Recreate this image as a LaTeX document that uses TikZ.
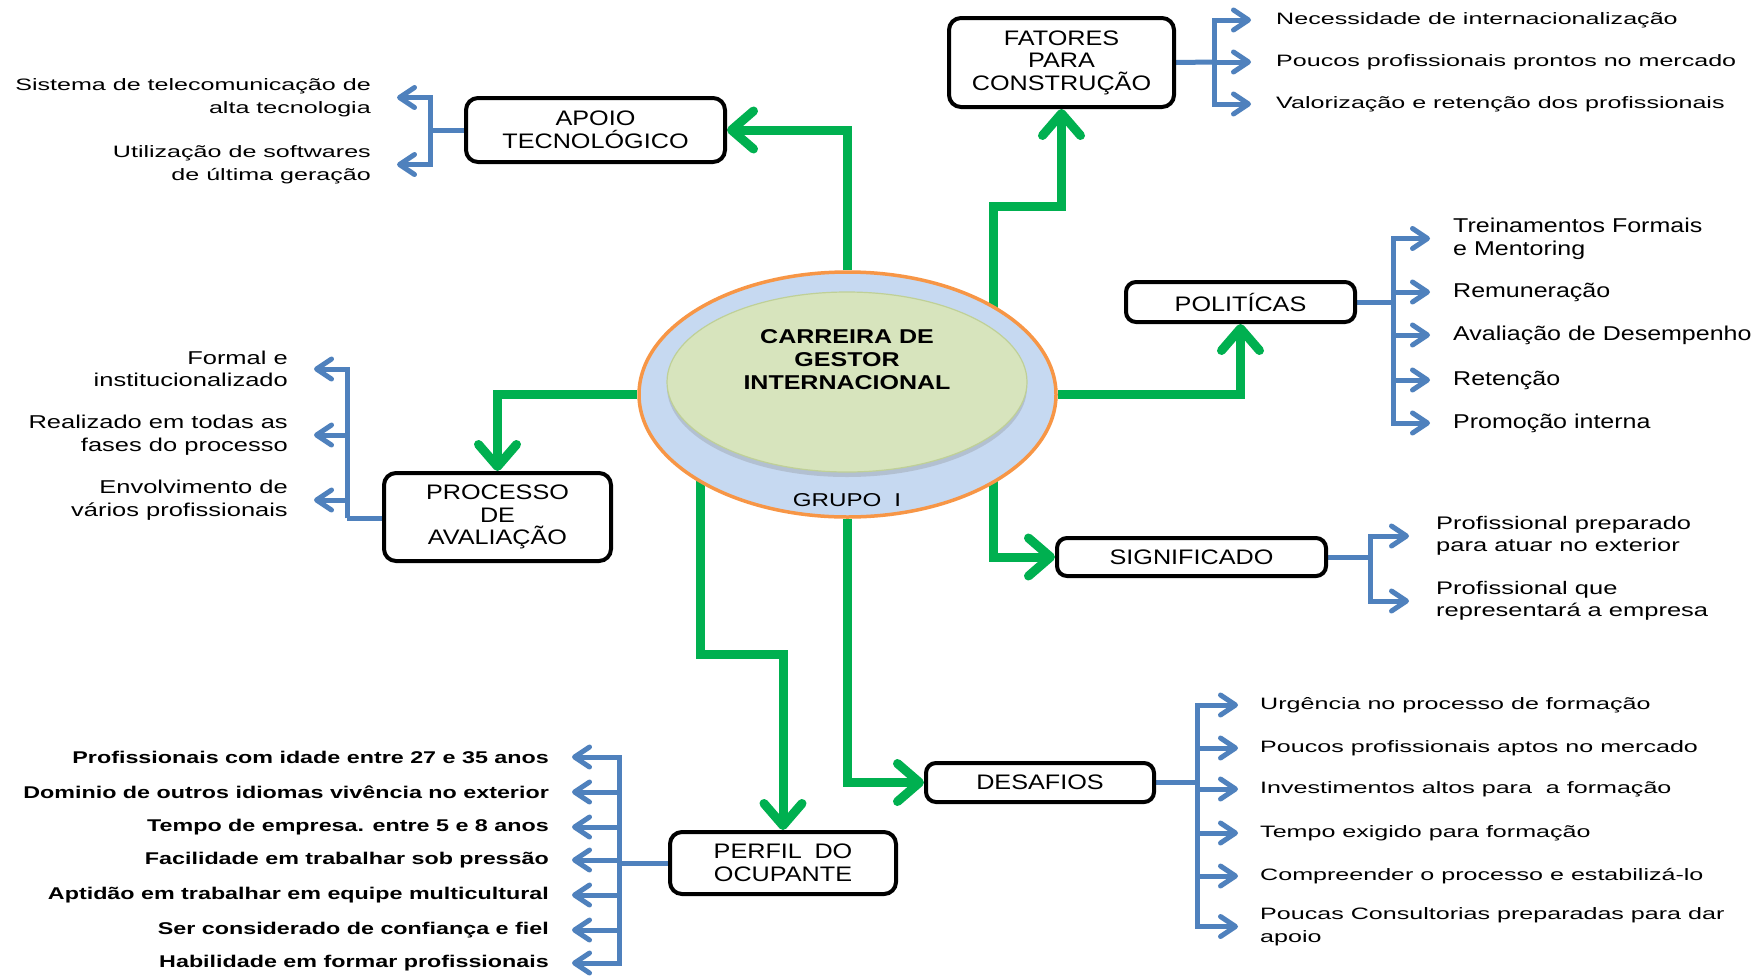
\documentclass[tikz,border=0pt]{standalone}
\usepackage{fontspec}
\setmainfont{Liberation Sans}
% widened sans faces for the different text groups
\newfontfamily\wideA{Liberation Sans}[FakeStretch=1.52]
\newfontfamily\wideP{Liberation Sans}[FakeStretch=1.25]
\newfontfamily\wideS{Liberation Sans}[FakeStretch=1.4]
\newfontfamily\wideR{Liberation Sans}[FakeStretch=1.37]
\newfontfamily\wideB{Liberation Sans}[FakeStretch=1.37]
\newfontfamily\wideBox{Liberation Sans}[FakeStretch=1.2]
\newfontfamily\wideHub{Liberation Sans}[FakeStretch=1.25]
\newfontfamily\wideG{Liberation Sans}[FakeStretch=1.3]
\usetikzlibrary{arrows.meta,shapes.geometric,shadows}
\definecolor{cGreen}{HTML}{00B050}
\definecolor{cBlue}{HTML}{4F81BD}
\definecolor{cHubBlue}{HTML}{C6D9F1}
\definecolor{cHubRim}{HTML}{F79646}
\definecolor{cCore}{HTML}{D7E4BD}
\definecolor{cCoreRim}{HTML}{BFD097}
\pgfdeclarelayer{back}
\pgfsetlayers{back,main}
\begin{document}
\begin{tikzpicture}[x=1pt,y=-1pt,
  box/.style={draw=black, line width=4pt, rounded corners=12pt, fill=white,
    inner sep=0pt, align=center, font=\wideBox\fontsize{21pt}{22.5pt}\selectfont},
  greenarrow/.style={draw=cGreen, line width=9pt,
    -{Straight Barb[length=22pt,width=38pt,round]}},
  blueline/.style={draw=cBlue, line width=5pt},
  bluearrow/.style={draw=cBlue, line width=5pt,
    -{Straight Barb[length=15pt,width=20pt,round]}},
  lblA/.style={inner sep=0pt, font=\wideA\fontsize{16.5pt}{23pt}\selectfont},
  lblP/.style={inner sep=0pt, align=left, anchor=west, font=\wideP\fontsize{20pt}{23pt}\selectfont},
  lblS/.style={inner sep=0pt, align=left, anchor=west, font=\wideS\fontsize{18.2pt}{22pt}\selectfont},
  lblR/.style={inner sep=0pt, align=right, anchor=east, font=\wideR\fontsize{18.6pt}{22.5pt}\selectfont},
  lblB/.style={inner sep=0pt, anchor=east, font=\wideB\bfseries\fontsize{17pt}{22pt}\selectfont},
]
\useasboundingbox (0,0) rectangle (1763,975);

% central ellipse
\node[ellipse, draw=cHubRim, line width=3.5pt, fill=cHubBlue,
  minimum width=417pt, minimum height=245pt, inner sep=0pt] (hub) at (847.5,394.5) {};
\node[ellipse, fill=cCore, draw=cCoreRim, line width=1.2pt,
  drop shadow={opacity=0.28, shadow xshift=0pt, shadow yshift=-5pt},
  minimum width=360pt, minimum height=180pt, inner sep=0pt] (core) at (847,382) {};
\node[inner sep=0pt, align=center, font=\wideHub\bfseries\fontsize{20pt}{23pt}\selectfont]
  (title) at (847,360) {CARREIRA DE\\GESTOR\\INTERNACIONAL};
\node[inner sep=0pt, font=\wideG\fontsize{18.6pt}{20pt}\selectfont]
  (grupo) at (847,500) {GRUPO\hspace{0.7em}I};

% topic boxes
\node[box, minimum width=259pt, minimum height=64pt] (apoio) at (595.5,130) {APOIO\\TECNOLÓGICO};
\node[box, minimum width=225pt, minimum height=89pt] (fatores) at (1061.5,62.5) {FATORES\\PARA\\CONSTRUÇÃO};
\node[box, rounded corners=10pt, minimum width=229pt, minimum height=40pt] (politicas) at (1240.5,302) {POLITÍCAS};
\node[box, rounded corners=10pt, minimum width=269pt, minimum height=38pt] (significado) at (1191.5,557) {SIGNIFICADO};
\node[box, minimum width=227pt, minimum height=88pt] (processo) at (497.5,517) {PROCESSO\\DE\\AVALIAÇÃO};
\node[box, minimum width=226pt, minimum height=62pt] (perfil) at (783,863) {PERFIL\hspace{0.6em}DO\\OCUPANTE};
\node[box, rounded corners=10pt, minimum width=228pt, minimum height=39pt] (desafios) at (1040,782.5) {DESAFIOS};

% item labels
\node[lblA, align=right, anchor=east] (a1) at (371,97.5) {Sistema de telecomunicação de\\alta tecnologia};
\node[lblA, align=right, anchor=east] (a2) at (371,164.5) {Utilização de softwares\\de última geração};

\node[lblA, anchor=west] (f1) at (1276,20) {Necessidade de internacionalização};
\node[lblA, anchor=west] (f2) at (1276,62) {Poucos profissionais prontos no mercado};
\node[lblA, anchor=west] (f3) at (1276,104) {Valorização e retenção dos profissionais};

\node[lblP] (p1) at (1453,238.5) {Treinamentos Formais\\e Mentoring};
\node[lblP] (p2) at (1453,292) {Remuneração};
\node[lblP] (p3) at (1453,335) {Avaliação de Desempenho};
\node[lblP] (p4) at (1453,380) {Retenção};
\node[lblP] (p5) at (1453,423) {Promoção interna};

\node[lblS] (s1) at (1436,536) {Profissional preparado\\para atuar no exterior};
\node[lblS] (s2) at (1436,601) {Profissional que\\representará a empresa};

\node[lblR] (r1) at (288,369) {Formal e\\institucionalizado};
\node[lblR] (r2) at (288,435) {Realizado em todas as\\fases do processo};
\node[lblR] (r3) at (288,500) {Envolvimento de\\vários profissionais};

\node[lblB] (o1) at (549,757) {Profissionais com idade entre 27 e 35 anos};
\node[lblB] (o2) at (549,792) {Dominio de outros idiomas vivência no exterior};
\node[lblB] (o3) at (549,827) {Tempo de empresa. entre 5 e 8 anos};
\node[lblB] (o4) at (549,860) {Facilidade em trabalhar sob pressão};
\node[lblB] (o5) at (549,895) {Aptidão em trabalhar em equipe multicultural};
\node[lblB] (o6) at (549,930) {Ser considerado de confiança e fiel};
\node[lblB] (o7) at (549,963) {Habilidade em formar profissionais};

\node[lblA, anchor=west] (d1) at (1260,705) {Urgência no processo de formação};
\node[lblA, anchor=west] (d2) at (1260,748) {Poucos profissionais aptos no mercado};
\node[lblA, anchor=west] (d3) at (1260,789) {Investimentos altos para\ \ a formação};
\node[lblA, anchor=west] (d4) at (1260,833) {Tempo exigido para formação};
\node[lblA, anchor=west] (d5) at (1260,876) {Compreender o processo e estabilizá-lo};
\node[lblA, anchor=west, align=left] (d6) at (1260,926.5) {Poucas Consultorias preparadas para dar\\apoio};

% junction points of the connectors
\coordinate (kF) at (993,206);
\coordinate (kP) at (700,654);
\coordinate (jA) at (430,130);
\coordinate (jF) at (1214,62);
\coordinate (jP) at (1393,302);
\coordinate (jS) at (1370,557);
\coordinate (jR) at (347,518);
\coordinate (jO) at (619,863);
\coordinate (jD) at (1197,782.5);

\begin{pgfonlayer}{back}
  \fill[white] (0,0) rectangle (1763,975);
  % green links from the centre
  \draw[greenarrow] (hub.north) |- (apoio.east);
  \draw[greenarrow] (hub.center -| kF) -- (kF) -| (fatores.south);
  \draw[greenarrow] (hub.east) -| (politicas.south);
  \draw[greenarrow] (hub.center -| kF) |- (significado.west);
  \draw[greenarrow] (hub.west) -| (processo.north);
  \draw[greenarrow] (hub.center -| kP) -- (kP) -| (perfil.north);
  \draw[greenarrow] (hub.south) |- (desafios.west);

  % blue item branches
  \draw[blueline] (apoio.west) -- (jA);
  \foreach \t in {a1,a2} \draw[bluearrow, shorten >=26pt] (jA) |- (\t.east);
  \draw[blueline] (fatores.east) -- (jF);
  \foreach \t in {f1,f2,f3} \draw[bluearrow, shorten >=25pt] (jF) |- (\t.west);
  \draw[blueline] (politicas.east) -- (jP);
  \foreach \t in {p1,p2,p3,p4,p5} \draw[bluearrow, shorten >=23pt] (jP) |- (\t.west);
  \draw[blueline] (significado.east) -- (jS);
  \foreach \t in {s1,s2} \draw[bluearrow, shorten >=27pt] (jS) |- (\t.west);
  \draw[blueline] (processo.west |- jR) -- (jR);
  \foreach \t in {r1,r2,r3} \draw[bluearrow, shorten >=26pt] (jR) |- (\t.east);
  \draw[blueline] (perfil.west) -- (jO);
  \foreach \t in {o1,o2,o3,o4,o5,o6,o7} \draw[bluearrow, shorten >=23pt] (jO) |- (\t.east);
  \draw[blueline] (desafios.east) -- (jD);
  \foreach \t in {d1,d2,d3,d4,d5,d6} \draw[bluearrow, shorten >=22pt] (jD) |- (\t.west);
\end{pgfonlayer}
\end{tikzpicture}
\end{document}
